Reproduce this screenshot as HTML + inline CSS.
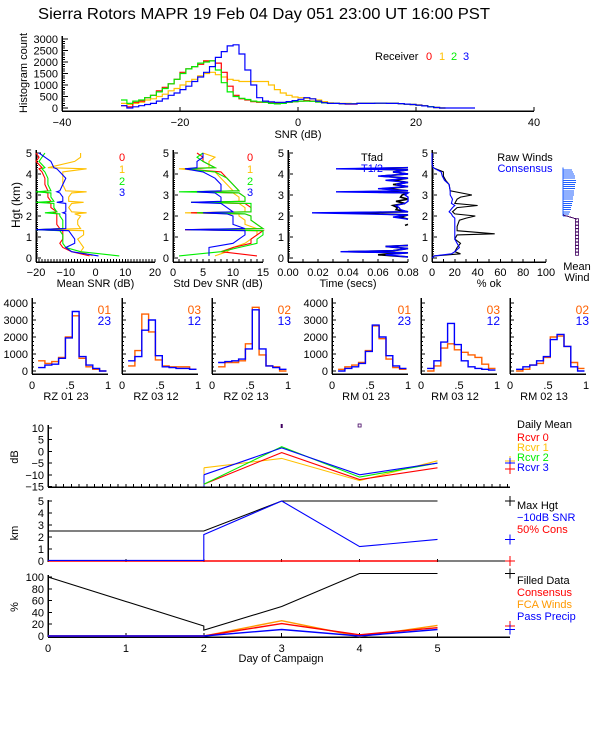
<!DOCTYPE html>
<html><head><meta charset="utf-8"><style>
html,body{margin:0;padding:0;background:#fff;}
svg{display:block;font-family:"Liberation Sans",sans-serif;}
</style></head><body>
<svg id="chart" width="600" height="750" viewBox="0 0 600 750" xmlns="http://www.w3.org/2000/svg">
<rect x="0" y="0" width="600" height="750" fill="#fff"/>
<text x="38" y="19" font-size="16" textLength="452" lengthAdjust="spacingAndGlyphs">Sierra Rotors   MAPR 19 Feb 04 Day 051   23:00 UT   16:00   PST</text>
</svg>
<script>
// ---------- data: top SNR histogram (1 dB bins starting at -30) ----------
const histStart = -30;
const histRed = [100,50,250,300,450,550,750,900,1050,1250,1550,1700,1800,1900,2050,2050,1950,1550,950,550,400,350,280,250,250,230,220,220,250,280,300,320,300,260,220,200,200,180,170,170,200,200,200,210,210,200,200,190,170,150,130,100,60,20,0];
const histGreen = [350,200,300,350,450,550,700,850,1050,1250,1500,1700,1800,1950,2000,2050,1650,1100,700,500,420,370,300,270,250,200,180,200,250,280,300,300,290,260,220,200,200,190,180,180,200,200,200,210,210,200,200,190,170,150,120,90,60,20,0];
const histYellow = [200,150,200,250,350,400,500,600,750,850,1000,1150,1250,1400,1500,1550,1450,1350,1250,1200,1150,1150,1150,1150,1150,1000,800,650,550,480,450,420,400,350,280,220,200,200,200,190,200,200,200,210,210,200,200,190,170,150,130,100,60,20,0];
const histBlue = [100,0,50,100,150,200,300,400,550,650,800,950,1150,1350,1550,1800,2200,2450,2700,2750,2350,1650,1000,450,300,270,250,250,280,320,380,450,400,300,230,200,200,190,180,180,200,200,200,210,210,200,200,190,170,150,120,90,50,20,0,0,0,0,0,0];
const histYTicks = [0,500,1000,1500,2000,2500,3000];
const histXTicks = [-40,-20,0,20,40];

// ---------- data: height profiles ----------
const hgt = [0.1,0.3,0.5,0.7,0.9,1.1,1.3,1.35,1.4,1.6,1.8,2.0,2.1,2.15,2.2,2.4,2.6,2.65,2.7,2.9,3.1,3.15,3.2,3.5,3.8,4.1,4.25,4.3,4.6,4.8,5.0];
const meanRed = [-2,-8,-11,-12,-11,-11,-11,-19,-12,-13,-13,-13,-13,-14,-13,-15,-15,-16,-15,-16,-16,-18,-16,-17,-17,-18,-19,-18,-20,-19,-20];
const meanYellow = [-1,-5,-4,-5,-6,-4,-4,-17,-5,-6,-6,-5,-7,-3,-8,-9,-8,-4,-9,-9,-8,-3,-10,-11,-11,-11,-3,-16,-7,-5,-5];
const meanGreen = [8,-5,-10,-11,-11,-11,-12,-20,-11,-11,-11,-12,-12,-17,-13,-14,-14,-20,-14,-15,-15,-20,-15,-16,-16,-17,-18,-17,-19,-18,-17];
const meanBlue = [1,-8,-10,-7,-7,-8,-9,-20,-10,-10,-10,-10,-10,-11,-10,-10,-10,-13,-11,-11,-12,-13,-12,-11,-10,-12,-13,-14,-15,-17,-19];
const sdRed = [14,8,10,13,13,14,15,2,15,14,13,13,12,3,13,13,12,3,12,12,11,3,11,10,9,8,2,7,5,5,4];
const sdYellow = [7,9,10,12,13,14,14,2,14,12,12,11,11,2,12,12,11,5,11,11,10,5,10,9,8,7,1,6,6,7,5];
const sdGreen = [1,8,11,14,14,15,15,3,15,14,13,13,12,4,13,13,13,3,12,12,11,1,11,10,9,7,2,7,5,4,5];
const sdBlue = [6,6,6,10,11,12,12,2,12,10,10,10,9,5,10,9,8,3,8,8,7,4,8,8,7,5,2,4,4,5,5];

const hgtT = [0.05,0.15,0.25,0.3,0.35,0.45,0.55,0.6,0.61,1.55,1.6,1.61,1.85,1.95,2.05,2.15,2.2,2.3,2.4,2.5,2.6,2.7,2.8,2.9,3.0,3.1,3.15,3.2,3.3,3.4,3.5,3.6,3.7,3.8,3.9,4.0,4.1,4.2,4.25,4.3];
const tBlue = [0.08,0.065,0.08,0.035,0.07,0.08,0.065,0.08,null,null,null,null,0.08,0.07,0.08,0.016,0.08,0.075,0.074,0.072,0.078,0.08,0.08,0.08,0.078,0.08,0.032,0.08,0.06,0.08,0.072,0.08,0.065,0.08,0.06,0.08,0.07,0.08,0.032,0.08];
const tBlack = [0.08,0.06,0.08,0.04,0.07,0.08,0.065,0.08,null,0.078,0.08,null,0.08,0.075,0.08,0.04,0.08,0.072,0.073,0.07,0.078,0.072,0.08,0.075,0.076,0.08,0.05,0.08,0.065,0.08,0.07,0.08,0.07,0.08,0.062,0.08,0.07,0.08,0.045,0.08];

const hgtP = [0,0.1,0.2,0.3,0.5,0.7,0.9,1.1,1.15,1.3,1.5,1.8,1.9,2.0,2.1,2.2,2.4,2.5,2.6,2.8,2.9,3.0,3.2,3.5,3.7,3.9,4.1,4.3,4.5,5.0];
const okBlack = [0,2,25,20,22,25,20,22,55,22,22,24,30,38,20,18,22,40,20,22,25,35,16,15,12,10,10,1,null,null];
const okBlue = [0,2,17,20,24,22,20,20,20,20,20,20,20,18,17,15,18,20,17,18,17,16,16,15,11,9,8,1,0,0];

const windHgt = [2.0,2.1,2.2,2.3,2.4,2.5,2.6,2.7,2.8,2.9,3.0,3.1,3.2,3.3,3.4,3.5,3.6,3.7,3.8,3.9,4.0,4.1,4.2];
const windSpeed = [5,6,7,8,8,9,9,10,10,10,11,11,11,12,12,12,13,13,12,12,11,10,9];
const windLowHgt = [0.2,0.36,0.52,0.68,0.84,1.0,1.16,1.32,1.48,1.64,1.8];

// ---------- data: row of correlation histograms (10 bins) ----------
const corrStart = 0.08;
const corrWidth = 0.09;
const corrOrange = [
  [600,450,550,800,2000,3250,750,250,100,0],
  [300,1200,3350,2300,650,300,250,250,250,100],
  [250,500,500,600,1600,3750,950,300,250,0],
  [100,250,350,500,1200,2650,1900,700,200,100],
  [0,300,1350,1600,1250,1100,950,800,400,150],
  [0,100,350,450,800,2000,2050,1450,500,150]];
const corrBlue = [
  [200,350,400,750,1950,3500,850,350,150,0],
  [600,850,2400,3000,900,250,200,150,150,100],
  [500,550,600,700,1300,3600,1300,300,200,100],
  [0,150,250,450,1150,2700,2000,900,300,150],
  [150,600,1700,2800,1550,600,250,150,100,50],
  [100,250,350,600,850,1850,2150,1450,250,0]];
const corrTitles = ["RZ   01  23","RZ   03  12","RZ   02  13","RM   01  23","RM   03  12","RM   02  13"];
const corrLegA = ["01","03","02","01","03","02"];
const corrLegB = ["23","12","13","23","12","13"];
const corrYTicks = [0,1000,2000,3000,4000];

// ---------- data: campaign time series ----------
const days = [0,2,3,4,5];
const dbRed = [null,-14,-0.5,-12,-7];
const dbYellow = [null,-7,-3,-12.5,-4];
const dbGreen = [null,-14,2,-11,-5];
const dbBlue = [null,-10,1.5,-10,-5];
const hgtMax = [2.5,2.5,5,5,5];
const hgtSnr = [0.05,2.2,5,1.2,1.8];
const hgtCons = [0,0,0,0,0];
const pctFilled = [100,17,50,106,106];
const pctCons = [0,0,21,2,14];
const pctFca = [0,0,26,-1,18];
const pctPrecip = [0,0,11,0,11];
const dbTicks = [10,5,0,-5,-10,-15];
const kmTicks = [0,1,2,3,4,5];
const pctTicks = [0,20,40,60,80,100];
const dayTicks = [0,1,2,3,4,5];

// ---------- helpers ----------
const NS = 'http://www.w3.org/2000/svg';
const svg = document.getElementById('chart');
function mk(tag, attrs, name) {
  const el = document.createElementNS(NS, tag);
  for (const k in attrs) el.setAttribute(k, attrs[k]);
  
  
  svg.appendChild(el);
  return el;
}
function lin(d0, d1, r0, r1) { return v => r0 + (v - d0) * (r1 - r0) / (d1 - d0); }
function ln(x1, y1, x2, y2, c, name, w) {
  return mk('line', {x1: x1, y1: y1, x2: x2, y2: y2, stroke: c || '#000', 'stroke-width': w || 1, 'shape-rendering': 'crispEdges'}, name);
}
function tx(x, y, s, name, opts) {
  opts = opts || {};
  const el = mk('text', {x: x, y: y, 'font-size': opts.size || 11, fill: opts.fill || '#000', 'text-anchor': opts.anchor || 'start'}, name);
  if (opts.rot) el.setAttribute('transform', 'rotate(-90 ' + x + ' ' + y + ')');
  el.textContent = s;
  return el;
}
function poly(xs, ys, sx, sy, c, name, w) {
  let d = '', pen = false;
  for (let i = 0; i < xs.length; i++) {
    if (xs[i] === null || ys[i] === null) { pen = false; continue; }
    d += (pen ? 'L' : 'M') + sx(xs[i]).toFixed(1) + ' ' + sy(ys[i]).toFixed(1);
    pen = true;
  }
  return mk('path', {d: d, fill: 'none', stroke: c, 'stroke-width': w || 1.1}, name);
}
function stepHist(vals, start, width, sx, sy, c, name, w) {
  let d = 'M' + sx(start).toFixed(1) + ' ' + sy(vals[0]).toFixed(1);
  for (let i = 0; i < vals.length; i++) {
    const y = sy(vals[i]).toFixed(1);
    d += 'V' + y + 'H' + sx(start + (i + 1) * width).toFixed(1);
  }
  return mk('path', {d: d, fill: 'none', stroke: c, 'stroke-width': w || 1.2}, name);
}

// ---------- top histogram ----------
(function () {
  const sx = lin(-40, 40, 62, 534), sy = lin(0, 3000, 108, 39);
  ln(62, 111, 534, 111, '#000', 'hist-x-axis', 1.5);
  ln(62, 36, 62, 111, '#000', 'hist-y-axis', 1.5);
  for (let v = 0; v <= 3000; v += 100) ln(62, sy(v), 62 + (v % 500 === 0 ? 6 : 3), sy(v), '#000', 'hist-y-tick');
  histYTicks.forEach(v => tx(58, sy(v) + 4, String(v), 'hist-y-tick-label', {anchor: 'end'}));
  histXTicks.forEach(v => { ln(sx(v), 111, sx(v), 107, '#000', 'hist-x-tick'); tx(sx(v), 126, String(v).replace('-', '\u2212'), 'hist-x-tick-label', {anchor: 'middle'}); });
  tx(298, 138, 'SNR (dB)', 'hist-x-title', {anchor: 'middle'});
  tx(27, 73, 'Histogram count', 'hist-y-title', {anchor: 'middle', rot: true});
  stepHist(histYellow, histStart, 1, sx, sy, '#ffc000', 'hist-rcvr-1');
  stepHist(histRed, histStart, 1, sx, sy, '#ff0000', 'hist-rcvr-0');
  stepHist(histGreen, histStart, 1, sx, sy, '#00ee00', 'hist-rcvr-2');
  stepHist(histBlue, histStart, 1, sx, sy, '#0000ff', 'hist-rcvr-3');
  tx(375, 60, 'Receiver', 'hist-legend-title');
  tx(426, 60, '0', 'hist-legend-0', {fill: '#ff0000'});
  tx(439, 60, '1', 'hist-legend-1', {fill: '#ffc000'});
  tx(451, 60, '2', 'hist-legend-2', {fill: '#00ee00'});
  tx(463, 60, '3', 'hist-legend-3', {fill: '#0000ff'});
})();

// ---------- height profile panels ----------
const sh = lin(0, 5, 258, 153);
function profilePanel(x0, x1, d0, d1, ticks, labels, minor, title, tname) {
  const sx = lin(d0, d1, x0, x1);
  ln(x0, 150, x0, 262, '#000', tname + '-y-axis', 1.5);
  ln(x0, 262, x1, 262, '#000', tname + '-x-axis', 1.5);
  for (let h = 0; h <= 5.001; h += 0.1) ln(x0, sh(h), x0 + (Math.abs(h - Math.round(h)) < 0.01 ? 5 : 2), sh(h), '#000', tname + '-y-tick');
  for (let k = 0; k <= 5; k++) tx(x0 - 4, sh(k) + 4, String(k), tname + '-y-tick-label', {anchor: 'end'});
  for (let i = 0; i <= minor; i++) { const xv = x0 + (x1 - x0) * i / minor; ln(xv, 262, xv, 259, '#000', tname + '-x-tick'); }
  ticks.forEach((v, i) => tx(sx(v), 276, labels[i], tname + '-x-tick-label', {anchor: 'middle'}));
  tx((x0 + x1) / 2, 287, title, tname + '-x-title', {anchor: 'middle'});
  return sx;
}
tx(20, 205, 'Hgt (km)', 'profile-y-title', {anchor: 'middle', rot: true, size: 12});
(function () {
  const sx = profilePanel(36, 155, -20, 20, [-20,-10,0,10,20], ['\u221220','\u221210','0','10','20'], 40, 'Mean SNR (dB)', 'mean-snr');
  poly(meanYellow, hgt, sx, sh, '#ffc000', 'mean-snr-rcvr-1');
  poly(meanRed, hgt, sx, sh, '#ff0000', 'mean-snr-rcvr-0');
  poly(meanGreen, hgt, sx, sh, '#00ee00', 'mean-snr-rcvr-2');
  poly(meanBlue, hgt, sx, sh, '#0000ff', 'mean-snr-rcvr-3');
  tx(122, 161, '0', 'mean-snr-legend-0', {fill: '#ff0000', anchor: 'middle'});
  tx(122, 173, '1', 'mean-snr-legend-1', {fill: '#ffc000', anchor: 'middle'});
  tx(122, 185, '2', 'mean-snr-legend-2', {fill: '#00ee00', anchor: 'middle'});
  tx(122, 196, '3', 'mean-snr-legend-3', {fill: '#0000ff', anchor: 'middle'});
})();
(function () {
  const sx = profilePanel(173, 263, 0, 15, [0,5,10,15], ['0','5','10','15'], 15, 'Std Dev SNR (dB)', 'std-snr');
  poly(sdYellow, hgt, sx, sh, '#ffc000', 'std-snr-rcvr-1');
  poly(sdRed, hgt, sx, sh, '#ff0000', 'std-snr-rcvr-0');
  poly(sdGreen, hgt, sx, sh, '#00ee00', 'std-snr-rcvr-2');
  poly(sdBlue, hgt, sx, sh, '#0000ff', 'std-snr-rcvr-3');
  tx(250, 161, '0', 'std-snr-legend-0', {fill: '#ff0000', anchor: 'middle'});
  tx(250, 173, '1', 'std-snr-legend-1', {fill: '#ffc000', anchor: 'middle'});
  tx(250, 185, '2', 'std-snr-legend-2', {fill: '#00ee00', anchor: 'middle'});
  tx(250, 196, '3', 'std-snr-legend-3', {fill: '#0000ff', anchor: 'middle'});
})();
(function () {
  const sx = profilePanel(288, 408, 0, 0.08, [0,0.02,0.04,0.06,0.08], ['0.00','0.02','0.04','0.06','0.08'], 8, 'Time (secs)', 'time');
  poly(tBlack, hgtT, sx, sh, '#000', 'time-tfad', 1.6);
  poly(tBlue, hgtT, sx, sh, '#0000ff', 'time-t-half', 1.4);
  tx(372, 161, 'Tfad', 'time-legend-tfad', {anchor: 'middle'});
  tx(372, 172, 'T1/2', 'time-legend-t-half', {anchor: 'middle', fill: '#0000ff'});
})();
(function () {
  const sx = profilePanel(432, 546, 0, 100, [0,20,40,60,80,100], ['0','20','40','60','80','100'], 10, '% ok', 'pct-ok');
  poly(okBlack, hgtP, sx, sh, '#000', 'pct-ok-raw-winds');
  poly(okBlue, hgtP, sx, sh, '#0000ff', 'pct-ok-consensus');
  tx(525, 161, 'Raw Winds', 'pct-ok-legend-raw', {anchor: 'middle'});
  tx(525, 172, 'Consensus', 'pct-ok-legend-consensus', {anchor: 'middle', fill: '#0000ff'});
})();
(function () {
  ln(563, sh(4.3), 563, sh(2.0), '#2060ff', 'mean-wind-stem');
  windHgt.forEach((h, i) => ln(563, sh(h), 563 + windSpeed[i], sh(h), '#2060ff', 'mean-wind-barb'));
  ln(563, sh(2.05), 577, sh(1.85), '#400060', 'mean-wind-transition');
  windLowHgt.forEach(h => mk('rect', {x: 575.5, y: sh(h) - 1.5, width: 3, height: 3, fill: 'none', stroke: '#400060', 'stroke-width': 0.8}, 'mean-wind-calm-marker'));
  tx(577, 270, 'Mean', 'mean-wind-label-1', {anchor: 'middle'});
  tx(577, 281, 'Wind', 'mean-wind-label-2', {anchor: 'middle'});
})();

// ---------- correlation histograms ----------
const corrX0 = [32, 122, 212, 332, 421, 510];
(function () {
  const sy = lin(0, 4000, 371, 303);
  corrX0.forEach((x0, p) => {
    const sx = lin(0, 1, x0, x0 + 76);
    ln(x0, 298, x0, 374, '#000', 'corr-y-axis', 1.5);
    ln(x0, 374, x0 + 76, 374, '#000', 'corr-x-axis', 1.5);
    for (let v = 0; v <= 4000; v += 250) ln(x0, sy(v), x0 + (v % 1000 === 0 ? 4 : 2), sy(v), '#000', 'corr-y-tick');
    if (p === 0 || p === 3) corrYTicks.forEach(v => tx(x0 - 4, sy(v) + 4, String(v), 'corr-y-tick-label', {anchor: 'end'}));
    [[0, '0'], [0.5, '.5'], [1, '1']].forEach(t => tx(sx(t[0]), 389, t[1], 'corr-x-tick-label', {anchor: 'middle'}));
    tx(x0 + 34, 400, corrTitles[p], 'corr-title', {anchor: 'middle'});
    stepHist(corrOrange[p], corrStart, corrWidth, sx, sy, '#ff6000', 'corr-hist-orange', 1.4);
    stepHist(corrBlue[p], corrStart, corrWidth, sx, sy, '#0000ff', 'corr-hist-blue', 1.4);
    tx(x0 + 79, 314, corrLegA[p], 'corr-legend-a', {anchor: 'end', fill: '#ff6000', size: 12});
    tx(x0 + 79, 325, corrLegB[p], 'corr-legend-b', {anchor: 'end', fill: '#0000ff', size: 12});
  });
})();

// ---------- campaign time series ----------
const sd = lin(0, 6, 48, 515.4);
(function () {
  const sA = lin(-15, 10, 486.5, 428), sB = lin(0, 5, 561, 501), sC = lin(0, 100, 636, 577);
  ln(48, 425, 48, 487, '#000', 'db-y-axis', 1.5);
  ln(48, 487, 510, 487, '#000', 'db-x-axis', 1.5);
  ln(48, 500, 48, 562, '#000', 'km-y-axis', 1.5);
  ln(48, 575, 48, 637, '#000', 'pct-y-axis', 1.5);
  ln(48, 637, 510, 637, '#000', 'pct-x-axis', 1.5);
  for (let d = 0; d <= 5.95; d += 0.1) ln(sd(d), 487, sd(d), 484, '#000', 'db-x-tick');
  dayTicks.forEach(d => { ln(sd(d), 637, sd(d), 633, '#000', 'pct-x-tick'); ln(sd(d), 562, sd(d), 559, '#000', 'km-x-tick'); tx(sd(d), 652, String(d), 'day-tick-label', {anchor: 'middle'}); });
  tx(281, 662, 'Day of Campaign', 'day-axis-title', {anchor: 'middle'});
  dbTicks.forEach(v => { ln(48, sA(v), 52, sA(v), '#000', 'db-y-tick'); tx(44, sA(v) + 4, String(v).replace('-', '\u2212'), 'db-y-tick-label', {anchor: 'end'}); });
  kmTicks.forEach(v => { ln(48, sB(v), 52, sB(v), '#000', 'km-y-tick'); tx(44, sB(v) + 4, String(v), 'km-y-tick-label', {anchor: 'end'}); });
  pctTicks.forEach(v => { ln(48, sC(v), 52, sC(v), '#000', 'pct-y-tick'); tx(44, sC(v) + 4, String(v), 'pct-y-tick-label', {anchor: 'end'}); });
  tx(18, 457, 'dB', 'db-y-title', {anchor: 'middle', rot: true});
  tx(18, 533, 'km', 'km-y-title', {anchor: 'middle', rot: true});
  tx(18, 607, '%', 'pct-y-title', {anchor: 'middle', rot: true});
  ln(sd(2), sA(-15), sd(2), sA(dbYellow[1]), '#ffc000', 'db-rcvr-1-start');
  ln(sd(2), sA(-15), sd(2), sA(dbBlue[1]), '#0000ff', 'db-rcvr-3-start');
  poly(days, dbYellow, sd, sA, '#ffc000', 'db-rcvr-1');
  poly(days, dbRed, sd, sA, '#ff0000', 'db-rcvr-0');
  poly(days, dbGreen, sd, sA, '#00ee00', 'db-rcvr-2');
  poly(days, dbBlue, sd, sA, '#0000ff', 'db-rcvr-3');
  mk('rect', {x: sd(3) - 1, y: 424, width: 2, height: 4, fill: '#400060'}, 'db-marker-day3');
  mk('rect', {x: sd(4) - 1.5, y: 424, width: 3, height: 3, fill: 'none', stroke: '#400060', 'stroke-width': 0.8}, 'db-marker-day4');
  function cross(y, c, name) { ln(505, y, 515, y, c, name); ln(510, y - 5, 510, y + 5, c, name); }
  cross(sA(dbYellow[4]), '#ffc000', 'db-cross-rcvr-1');
  cross(sA(dbBlue[4]), '#0000ff', 'db-cross-rcvr-3');
  cross(sA(dbRed[4] - 0.5), '#ff0000', 'db-cross-rcvr-0');
  tx(517, 428, 'Daily Mean', 'db-legend-title');
  tx(517, 441, 'Rcvr 0', 'db-legend-rcvr-0', {fill: '#ff0000'});
  tx(517, 451, 'Rcvr 1', 'db-legend-rcvr-1', {fill: '#ffc000'});
  tx(517, 461, 'Rcvr 2', 'db-legend-rcvr-2', {fill: '#00ee00'});
  tx(517, 471, 'Rcvr 3', 'db-legend-rcvr-3', {fill: '#0000ff'});
  ln(sd(5), sB(0), 510, sB(0), '#000', 'km-baseline-extension');
  poly(days, hgtCons, sd, sB, '#ff0000', 'km-50pct-cons', 1.4);
  poly(days, hgtMax, sd, sB, '#000', 'km-max-hgt');
  poly([0, 2, 2, 3, 4, 5], [hgtSnr[0], hgtSnr[0], hgtSnr[1], hgtSnr[2], hgtSnr[3], hgtSnr[4]], sd, sB, '#0000ff', 'km-10db-snr');
  cross(sB(hgtMax[4]), '#000', 'km-cross-max');
  cross(sB(hgtSnr[4]), '#0000ff', 'km-cross-snr');
  cross(sB(hgtCons[4]), '#ff0000', 'km-cross-cons');
  tx(517, 509, 'Max Hgt', 'km-legend-max');
  tx(517, 521, '\u221210dB SNR', 'km-legend-snr', {fill: '#0000ff'});
  tx(517, 533, '50% Cons', 'km-legend-cons', {fill: '#ff0000'});
  poly([0, 2, 2, 3, 4, 5], [pctFilled[0], pctFilled[1], 10, pctFilled[2], pctFilled[3], pctFilled[4]], sd, sC, '#000', 'pct-filled-data');
  poly(days, pctFca, sd, sC, '#ff9900', 'pct-fca-winds', 1.4);
  poly(days, pctCons, sd, sC, '#ff0000', 'pct-consensus', 1.4);
  poly(days, pctPrecip, sd, sC, '#0000ff', 'pct-pass-precip', 1.4);
  cross(sC(pctFilled[4]), '#000', 'pct-cross-filled');
  cross(sC(pctFca[4] - 1), '#ff9900', 'pct-cross-fca');
  cross(sC(pctCons[4] + 3), '#ff0000', 'pct-cross-cons');
  cross(sC(pctPrecip[4]), '#0000ff', 'pct-cross-precip');
  tx(517, 584, 'Filled Data', 'pct-legend-filled');
  tx(517, 596, 'Consensus', 'pct-legend-consensus', {fill: '#ff0000'});
  tx(517, 608, 'FCA Winds', 'pct-legend-fca', {fill: '#ff9900'});
  tx(517, 620, 'Pass Precip', 'pct-legend-precip', {fill: '#0000ff'});
})();
</script>
</body></html>
